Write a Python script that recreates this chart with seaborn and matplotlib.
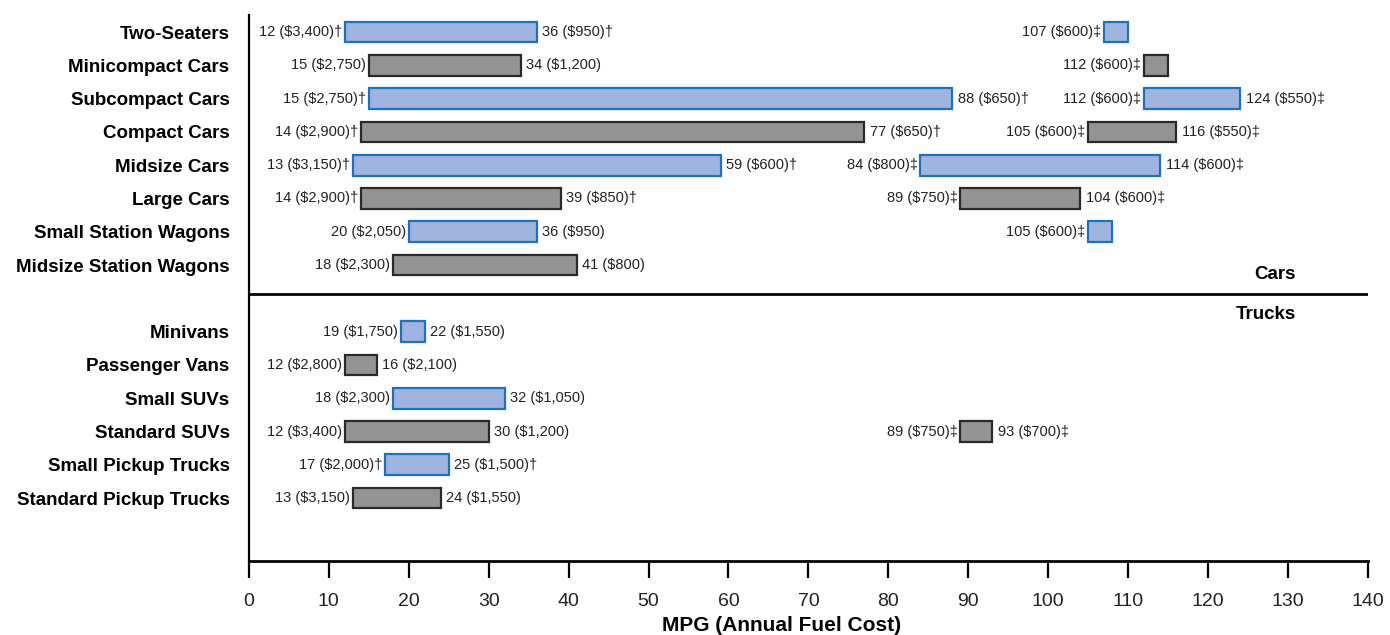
import pandas as pd
import matplotlib.pyplot as plt
import seaborn as sns

# vehicle classes, top to bottom; "" is the empty row between cars and trucks
vehicles = ['Two-Seaters', 'Minicompact Cars', 'Subcompact Cars', 'Compact Cars',
            'Midsize Cars', 'Large Cars', 'Small Station Wagons', 'Midsize Station Wagons',
            'Minivans', 'Passenger Vans', 'Small SUVs', 'Standard SUVs',
            'Small Pickup Trucks', 'Standard Pickup Trucks']
row_order = vehicles[:8] + [''] + vehicles[8:]

# conventional vehicles: worst / best MPG with annual fuel cost
low_mpg = [12, 15, 15, 14, 13, 14, 20, 18, 19, 12, 18, 12, 17, 13]
low_cost = ['$3,400', '$2,750', '$2,750', '$2,900', '$3,150', '$2,900', '$2,050', '$2,300',
            '$1,750', '$2,800', '$2,300', '$3,400', '$2,000', '$3,150']
low_mark = ['†', '', '†', '†', '†', '†', '', '', '', '', '', '', '†', '']
high_mpg = [36, 34, 88, 77, 59, 39, 36, 41, 22, 16, 32, 30, 25, 24]
high_cost = ['$950', '$1,200', '$650', '$650', '$600', '$850', '$950', '$800',
             '$1,550', '$2,100', '$1,050', '$1,200', '$1,500', '$1,550']
high_mark = ['†', '', '†', '†', '†', '†', '', '', '', '', '', '', '†', '']

# electric vehicles (MPGe), marked with a double dagger
ev_vehicles = ['Two-Seaters', 'Minicompact Cars', 'Subcompact Cars', 'Compact Cars',
               'Midsize Cars', 'Large Cars', 'Small Station Wagons', 'Standard SUVs']
ev_low_mpg = [107, 112, 112, 105, 84, 89, 105, 89]
ev_low_cost = ['$600', '$600', '$600', '$600', '$800', '$750', '$600', '$750']
ev_high_mpg = [110, 115, 124, 116, 114, 104, 108, 93]
ev_high_cost = [None, None, '$550', '$550', '$600', '$600', None, '$700']

xticks = list(range(0, 141, 10))

BLUE_FACE, BLUE_EDGE = '#9fb3df', '#1a72c2'
GRAY_FACE, GRAY_EDGE = '#939393', '#2a2a2a'

sns.set_style('white')
plt.rcParams['font.family'] = ['Liberation Sans Narrow', 'Liberation Sans', 'DejaVu Sans']

fig = plt.figure(figsize=(13.9, 6.35), dpi=100)
ax = fig.add_axes([0.1791, 0.1165, 0.8050, 0.8598])


def row_colors(names):
    face = [BLUE_FACE if vehicles.index(n) % 2 == 0 else GRAY_FACE for n in names]
    edge = [BLUE_EDGE if vehicles.index(n) % 2 == 0 else GRAY_EDGE for n in names]
    return face, edge


conv = pd.DataFrame({'vehicle': vehicles,
                     'span': [h - l for l, h in zip(low_mpg, high_mpg)]})
ev = pd.DataFrame({'vehicle': ev_vehicles,
                   'span': [h - l for l, h in zip(ev_low_mpg, ev_high_mpg)]})

for df, starts in [(conv, low_mpg), (ev, ev_low_mpg)]:
    face, edge = row_colors(df['vehicle'])
    sns.barplot(data=df, x='span', y='vehicle', order=row_order, orient='y',
                left=starts, width=0.62, color=BLUE_FACE, facecolor=face,
                edgecolor=edge, linewidth=1.6, errorbar=None, ax=ax)

label_kw = dict(textcoords='offset points', va='center', fontsize=10.5, color='#222222')

for v, lo, lc, lm, hi, hc, hm in zip(vehicles, low_mpg, low_cost, low_mark,
                                      high_mpg, high_cost, high_mark):
    y = row_order.index(v)
    ax.annotate(f'{lo} ({lc}){lm}', xy=(lo, y), xytext=(-2, 0), ha='right', **label_kw)
    ax.annotate(f'{hi} ({hc}){hm}', xy=(hi, y), xytext=(4, 0), ha='left', **label_kw)

for v, lo, lc, hi, hc in zip(ev_vehicles, ev_low_mpg, ev_low_cost, ev_high_mpg, ev_high_cost):
    y = row_order.index(v)
    ax.annotate(f'{lo} ({lc})‡', xy=(lo, y), xytext=(-2, 0), ha='right', **label_kw)
    if hc:
        ax.annotate(f'{hi} ({hc})‡', xy=(hi, y), xytext=(4, 0), ha='left', **label_kw)

# cars / trucks divider
ax.axhline(7.87, color='black', lw=2)
ax.text(131, 7.27, 'Cars', ha='right', va='center', fontsize=13.5,
        fontweight='bold', family='Liberation Sans', color='black')
ax.text(131, 8.47, 'Trucks', ha='right', va='center', fontsize=13.5,
        fontweight='bold', family='Liberation Sans', color='black')

ax.set_xlim(0, 140)
ax.set_ylim(15.89, -0.51)
ax.set_xticks(xticks)
ax.set_ylabel('')
ax.set_xlabel('MPG (Annual Fuel Cost)', fontsize=15, fontweight='bold',
              family='Liberation Sans', color='black')
ax.xaxis.set_label_coords(0.476, -0.1)

ax.tick_params(axis='x', direction='out', length=12, width=1.6, pad=11,
               labelsize=14, color='black', labelcolor='#222222', bottom=True)
ax.tick_params(axis='y', length=0, pad=14)
for lbl in ax.get_yticklabels():
    lbl.set_fontweight('bold')
    lbl.set_fontsize(13.5)
    lbl.set_family('Liberation Sans')
    lbl.set_color('black')

for side in ['top', 'right']:
    ax.spines[side].set_visible(False)
ax.spines['left'].set_color('black')
ax.spines['left'].set_linewidth(1.6)
ax.spines['bottom'].set_color('black')
ax.spines['bottom'].set_linewidth(2)

fig.savefig('out.png', dpi=100)
